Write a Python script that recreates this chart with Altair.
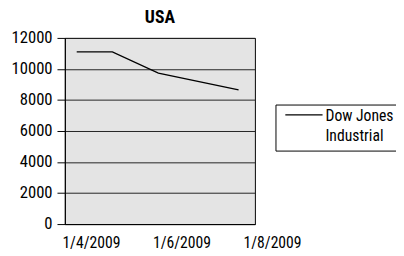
import altair as alt
import pandas as pd

# Data
dates = ["2009-04-09", "2009-05-03", "2009-06-03", "2009-07-27"]
values = [11100, 11100, 9730, 8650]
series = ["Dow Jones Industrial"] * len(dates)

y_ticks = [0, 2000, 4000, 6000, 8000, 10000, 12000]
x_tick_dates = [(2009, 4, 1), (2009, 6, 1), (2009, 8, 1)]

df = pd.DataFrame({"date": dates, "value": values, "series": series})

FONT = "Roboto Condensed, Liberation Sans Narrow, Arial Narrow, Roboto, sans-serif"

chart = (
    alt.Chart(df)
    .mark_line(color="black", strokeWidth=1.3)
    .encode(
        x=alt.X(
            "date:T",
            scale=alt.Scale(
                type="utc",
                domain=[
                    alt.DateTime(year=2009, month=4, date=1, utc=True),
                    alt.DateTime(year=2009, month=8, date=7, utc=True),
                ],
            ),
            axis=alt.Axis(
                values=[alt.DateTime(year=y, month=m, date=d, utc=True) for (y, m, d) in x_tick_dates],
                labelExpr="utcFormat(datum.value, '%-d/%-m/%Y')",
                title=None,
                grid=False,
                ticks=False,
                domainColor="black",
                labelAlign="left",
                labelOffset=-3,
                labelPadding=11,
                labelFont=FONT,
                labelFontSize=16,
                labelColor="black",
            ),
        ),
        y=alt.Y(
            "value:Q",
            scale=alt.Scale(domain=[0, 12000], nice=False),
            axis=alt.Axis(
                values=y_ticks,
                format="d",
                title=None,
                grid=True,
                gridColor="#222222",
                gridWidth=1,
                gridOpacity=1,
                tickColor="black",
                tickSize=8,
                domainColor="black",
                labelPadding=5,
                labelFont=FONT,
                labelFontSize=17,
                labelColor="black",
            ),
        ),
        color=alt.Color(
            "series:N",
            scale=alt.Scale(range=["black"]),
            legend=alt.Legend(
                title=None,
                orient="none",
                legendX=215,
                legendY=68,
                strokeColor="black",
                fillColor="white",
                padding=6,
                symbolType="M-0.68,-0.62L3.32,-0.62",
                symbolSize=361,
                symbolStrokeWidth=1.3,
                labelExpr="['Dow Jones', 'Industrial']",
                labelFont=FONT,
                labelFontSize=16,
                labelColor="black",
                labelOffset=24,
                labelBaseline="alphabetic",
            ),
        ),
    )
    .properties(
        width=194,
        height=190,
        title=alt.TitleParams(
            "USA", font=FONT, fontSize=18, fontWeight="bold", color="black",
            anchor="middle", frame="group", offset=2,
        ),
        autosize=alt.AutoSizeParams(type="none"),
        padding={"left": 58, "top": 28, "right": 144, "bottom": 28},
    )
    .configure(background="white", style={"guide-label": {"lineHeight": 21}})
    .configure_view(fill="#e4e4e4", stroke="black", strokeWidth=1)
)

chart.save("out.html", embed_options={"renderer": "svg", "actions": False})
